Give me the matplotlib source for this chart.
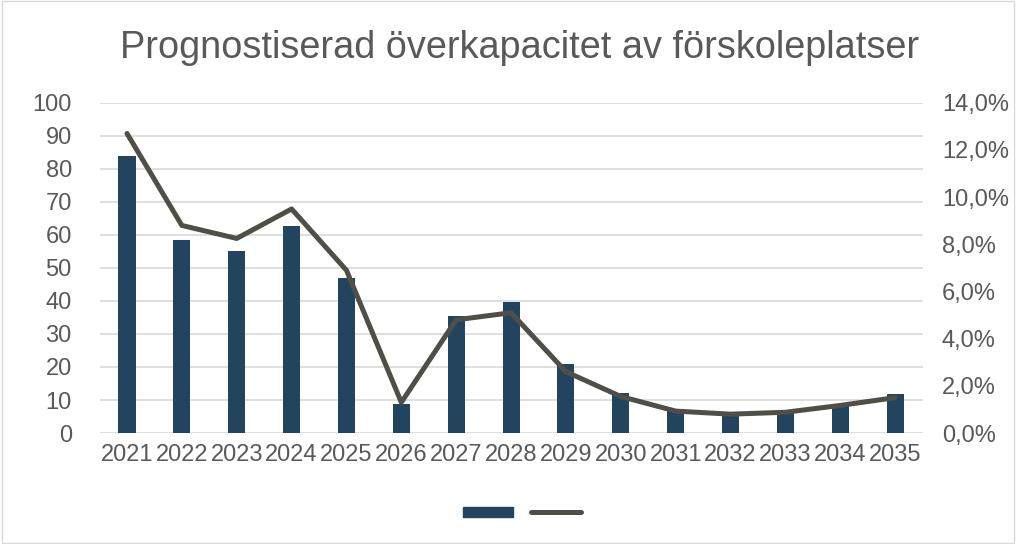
import matplotlib.pyplot as plt
from matplotlib.patches import Rectangle
from matplotlib.lines import Line2D
from matplotlib.ticker import FuncFormatter

years = [str(y) for y in range(2021, 2036)]
platser = [84, 58.4, 55, 62.7, 46.8, 8.8, 35.5, 39.7, 20.8, 12.2, 7.4, 5.5, 6.2, 8.6, 11.7]
andel = [12.7, 8.8, 8.25, 9.5, 6.9, 1.3, 4.8, 5.1, 2.6, 1.55, 0.93, 0.8, 0.88, 1.17, 1.5]

bar_color = "#22445F"
line_color = "#4F4F47"
text_color = "#595959"
grid_color = "#D9D9D9"

plt.rcParams['font.family'] = ['Liberation Sans', 'DejaVu Sans']

fig = plt.figure(figsize=(10.16, 5.44), dpi=100)
ax = fig.add_axes([0.098, 0.204, 0.81, 0.607])
ax2 = ax.twinx()

x = range(len(years))
ax.bar(x, platser, width=0.31, color=bar_color, zorder=2)
ax2.plot(x, andel, color=line_color, linewidth=3.6, solid_capstyle='round',
         solid_joinstyle='round', zorder=3)

ax.set_ylim(0, 100)
ax.set_yticks(range(0, 101, 10))
ax2.set_ylim(0, 14)
ax2.set_yticks(range(0, 15, 2))
ax2.yaxis.set_major_formatter(FuncFormatter(lambda v, p: f"{v:.1f}%".replace(".", ",")))
ax.set_xlim(-0.5, len(years) - 0.5)
ax.set_xticks(list(x))
ax.set_xticklabels(years)

ax.grid(axis='y', color=grid_color, linewidth=1.2, zorder=0)
ax.set_axisbelow(True)
for a in (ax, ax2):
    for s in a.spines.values():
        s.set_visible(False)
    a.tick_params(length=0, labelsize=17, colors=text_color)
ax.tick_params(axis='y', pad=20)
ax2.tick_params(axis='y', pad=14)
ax.tick_params(axis='x', pad=8)

fig.text(0.5115, 0.912, "Prognostiserad överkapacitet av förskoleplatser",
         ha='center', va='center', fontsize=27.3, color=text_color)

handles = [Rectangle((0, 0), 1, 1, color=bar_color),
           Line2D([0], [0], color=line_color, linewidth=3.6, solid_capstyle='round')]
fig.legend(handles, ['', ''], loc='center', bbox_to_anchor=(0.514, 1 - 513 / 544),
           ncol=2, frameon=False, handlelength=3.6, handletextpad=0, columnspacing=1.3)

fig.patches.append(Rectangle((0.002, 0.002), 0.996, 0.996, transform=fig.transFigure,
                             fill=False, edgecolor=grid_color, linewidth=1))

fig.savefig("out.png", dpi=100)
